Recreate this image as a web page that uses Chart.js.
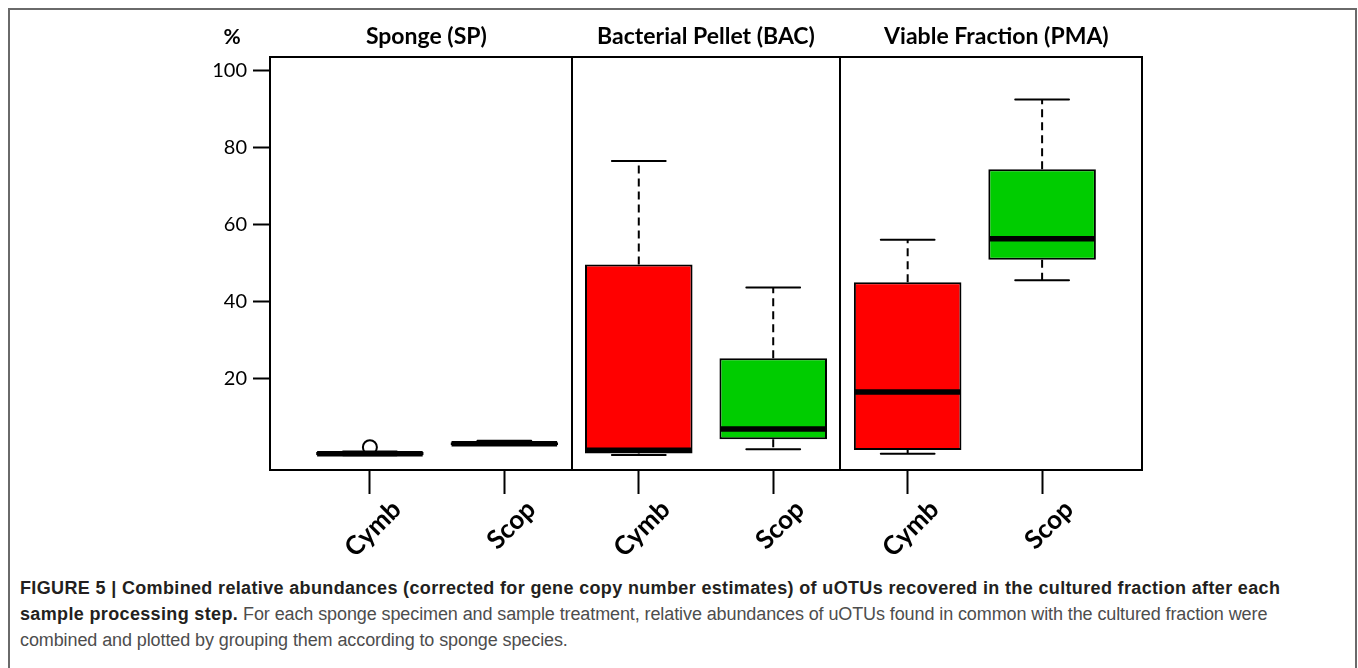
<!DOCTYPE html>
<html>
<head>
<meta charset="utf-8">
<script src="https://cdn.jsdelivr.net/npm/chart.js@4.4.0/dist/chart.umd.min.js"></script>
<style>
  html, body { margin: 0; padding: 0; background: #fff; overflow: hidden; }
  body { width: 1358px; height: 668px; position: relative; }
  #frame { position: absolute; left: 8px; top: 8px; width: 1345px; height: 700px; border: 2px solid #6a6a6a; }
  #wrap { position: absolute; left: 0; top: 0; width: 1358px; height: 564px; }
  #caption { position: absolute; left: 20px; top: 575px; font-family: "Liberation Sans", Arial, sans-serif;
             font-size: 18px; line-height: 26px; color: #4d4d4d; white-space: nowrap; letter-spacing: -0.1px; }
  #caption b { color: #231f20; letter-spacing: 0.35px; }
</style>
</head>
<body>
<div id="frame"></div>
<div id="wrap"><canvas id="boxChart"></canvas></div>
<div id="caption">
  <b>FIGURE 5 | Combined relative abundances (corrected for gene copy number estimates) of uOTUs recovered in the cultured fraction after each</b><br>
  <b>sample processing step.</b> For each sponge specimen and sample treatment, relative abundances of uOTUs found in common with the cultured fraction were<br>
  combined and plotted by grouping them according to sponge species.
</div>
<script>
// species per box, two per processing step
const categories = ["Cymb", "Scop", "Cymb", "Scop", "Cymb", "Scop"];
const groupTitles = ["Sponge (SP)", "Bacterial Pellet (BAC)", "Viable Fraction (PMA)"];
const yTicks = [20, 40, 60, 80, 100];

// box stats (%)
const whiskerLow  = [0.2, 2.9, 0.3, 1.8, 0.6, 45.6];
const q1          = [0.2, 2.9, 0.7, 4.4, 1.6, 50.9];
const median      = [0.6, 3.2, 1.5, 7.0, 16.6, 56.4];
const q3          = [1.1, 3.6, 49.7, 25.4, 45.1, 74.4];
const whiskerHigh = [1.2, 4.0, 76.5, 43.7, 56.1, 92.5];
const outliers    = [2.3, null, null, null, null, null];

const boxColors = ["#ff0000", "#00cc00", "#ff0000", "#00cc00", "#ff0000", "#00cc00"];

const X_MIN = -0.743, X_MAX = 5.743;
const titleAt = [0.42, 2.5, 4.66];   // where group titles sit on the x scale
const dividerAt = [1.5, 3.5];
const labelShift = 0.2;               // nudges rotated species labels right

const boxplotParts = {
  id: "boxplotParts",
  afterDatasetsDraw(chart) {
    const { ctx, scales: { y } } = chart;
    const bars = chart.getDatasetMeta(1).data;
    ctx.save();
    ctx.strokeStyle = "#000";
    bars.forEach((bar, i) => {
      const cx = bar.x, half = bar.width / 2, cap = bar.width / 4;
      const yHi = y.getPixelForValue(whiskerHigh[i]);
      const yLo = y.getPixelForValue(whiskerLow[i]);
      const yQ3 = y.getPixelForValue(q3[i]);
      const yQ1 = y.getPixelForValue(q1[i]);
      const yMed = y.getPixelForValue(median[i]);
      ctx.lineWidth = 2;
      ctx.setLineDash([8, 5]);
      ctx.beginPath();
      ctx.moveTo(cx, yQ3); ctx.lineTo(cx, yHi);
      ctx.moveTo(cx, yQ1); ctx.lineTo(cx, yLo);
      ctx.stroke();
      ctx.setLineDash([]);
      ctx.lineCap = "round";
      ctx.beginPath();
      ctx.moveTo(cx - cap, yHi); ctx.lineTo(cx + cap, yHi);
      ctx.moveTo(cx - cap, yLo); ctx.lineTo(cx + cap, yLo);
      ctx.stroke();
      ctx.lineCap = "butt";
      ctx.lineWidth = 5.5;
      ctx.beginPath();
      ctx.moveTo(cx - half + 1, yMed); ctx.lineTo(cx + half - 1, yMed);
      ctx.stroke();
    });
    ctx.restore();
  },
  afterDraw(chart) {
    const { ctx, chartArea } = chart;
    ctx.save();
    ctx.font = "bold 21px Lato";
    ctx.fillStyle = "#000";
    ctx.textAlign = "center";
    ctx.textBaseline = "middle";
    ctx.fillText("%", chartArea.left - 38, 37);
    ctx.restore();
  }
};

const ctx = document.getElementById("boxChart").getContext("2d");
new Chart(ctx, {
  type: "bar",
  data: {
    datasets: [
      {
        type: "line",
        label: "outliers",
        data: outliers.map((v, i) => ({ x: i, y: v })),
        showLine: false,
        pointRadius: 7,
        pointBorderWidth: 2,
        pointBorderColor: "#000",
        pointBackgroundColor: "rgba(0,0,0,0)",
        order: 0
      },
      {
        label: "IQR",
        data: categories.map((c, i) => ({ x: i, y: [q1[i], q3[i]] })),
        backgroundColor: boxColors,
        borderColor: "#000",
        borderWidth: 2,
        borderSkipped: false,
        barPercentage: 0.8,
        categoryPercentage: 1,
        order: 1
      }
    ]
  },
  options: {
    responsive: true,
    maintainAspectRatio: false,
    animation: false,
    layout: { padding: { left: 200, right: 216, top: 0, bottom: 0 } },
    plugins: { legend: { display: false }, tooltip: { enabled: false } },
    scales: {
      x: {
        type: "linear", min: X_MIN, max: X_MAX, offset: false, weight: 0,
        afterBuildTicks: s => { s.ticks = categories.map((c, i) => ({ value: i })); },
        afterFit: s => { s.height = 24; },
        ticks: { display: false },
        grid: { offset: false, drawOnChartArea: false, drawTicks: true, tickLength: 24, tickColor: "#000", tickWidth: 2 },
        border: { color: "#000", width: 2 }
      },
      x2: {
        type: "linear", position: "bottom", min: X_MIN - labelShift, max: X_MAX - labelShift, offset: false, weight: 1,
        afterBuildTicks: s => { s.ticks = categories.map((c, i) => ({ value: i })); },
        afterFit: s => { s.height = 70; },
        ticks: {
          autoSkip: false, minRotation: 45, maxRotation: 45, padding: 0, color: "#000",
          font: { family: "Lato", size: 26, weight: "bold" },
          callback: (v, i) => categories[i]
        },
        grid: { display: false, drawTicks: false, offset: false },
        border: { display: false }
      },
      xt: {
        type: "linear", position: "top", min: X_MIN, max: X_MAX, offset: false, weight: 1,
        afterBuildTicks: s => { s.ticks = titleAt.map(v => ({ value: v })); },
        afterFit: s => { s.height = 57; },
        ticks: {
          autoSkip: false, maxRotation: 0, padding: 7, color: "#000",
          font: { family: "Lato", size: 23, weight: "bold" },
          callback: (v, i) => groupTitles[i]
        },
        grid: { display: false, drawTicks: false, offset: false },
        border: { color: "#000", width: 2 }
      },
      xd: {
        type: "linear", position: "top", min: X_MIN, max: X_MAX, offset: false, weight: 0,
        afterBuildTicks: s => { s.ticks = dividerAt.map(v => ({ value: v })); },
        afterFit: s => { s.height = 0; },
        ticks: { display: false },
        grid: { drawOnChartArea: true, drawTicks: false, color: "#000", lineWidth: 2, offset: false },
        border: { display: false }
      },
      y: {
        type: "linear", min: -3.6, max: 103.5,
        afterBuildTicks: s => { s.ticks = yTicks.map(v => ({ value: v })); },
        afterFit: s => { s.width = 70; },
        ticks: { padding: 6, color: "#000", font: { family: "Lato", size: 20 } },
        grid: { drawOnChartArea: false, drawTicks: true, tickLength: 17, tickColor: "#000", tickWidth: 2 },
        border: { color: "#000", width: 2 }
      },
      yr: {
        type: "linear", position: "right", min: -3.6, max: 103.5,
        afterFit: s => { s.width = 0; },
        ticks: { display: false },
        grid: { display: false, drawTicks: false },
        border: { color: "#000", width: 2 }
      }
    }
  },
  plugins: [boxplotParts]
});
</script>
</body>
</html>
